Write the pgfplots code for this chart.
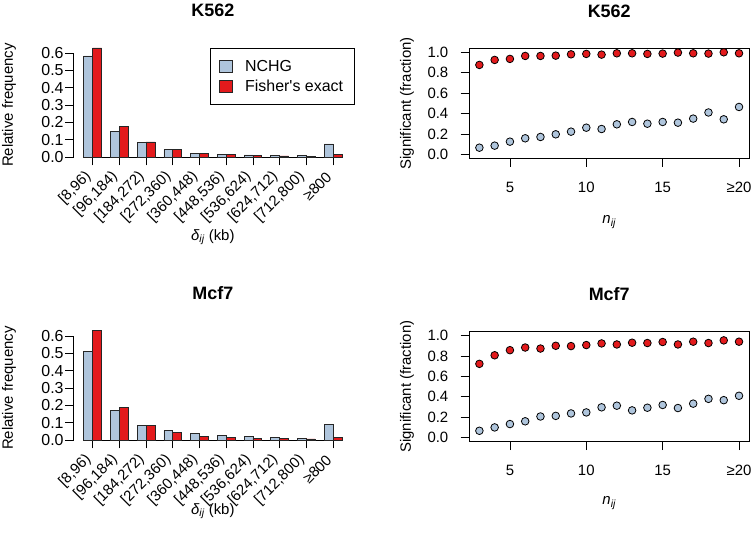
\documentclass[border=0pt]{standalone}
\usepackage{fontspec}
\setmainfont{Liberation Sans}
\usepackage{pgfplots}
\pgfplotsset{compat=1.18}
\definecolor{nchg}{HTML}{AFC5DC}
\definecolor{fish}{HTML}{E31A1C}
\pgfkeys{/pgf/number format/assume math mode=true}
\pgfplotsset{
  barleg/.style={legend image code/.code={\draw[##1] (0bp,-6bp) rectangle (13bp,6bp);}},
  rbase/.style={scale only axis, anchor=south west, tick align=outside, major tick length=8.5bp,
     every tick/.style={black, line width=0.8bp}, axis line style={line width=0.8bp},
     tick label style={font=\fontsize{15}{18}\selectfont},
     label style={font=\fontsize{15}{18}\selectfont},
     title style={font=\fontsize{18}{21}\selectfont\bfseries},
     legend style={font=\fontsize{16}{19}\selectfont},
  },
  barax/.style={rbase, width=258.1bp, height=104bp, xmin=0.6667, xmax=10.3333, ymin=0, ymax=0.6, clip=false,
     axis x line*=bottom, axis y line*=left, axis y line shift=10bp, axis line style={-},
     ytick={0,0.1,0.2,0.3,0.4,0.5,0.6},
     yticklabel style={font=\fontsize{16}{19}\selectfont, /pgf/number format/.cd, fixed, fixed zerofill, precision=1, /tikz/.cd, inner xsep=1.5bp},
     xtick={1,...,10},
     xticklabels={{[8,96)},{[96,184)},{[184,272)},{[272,360)},{[360,448)},{[448,536)},{[536,624)},{[624,712)},{[712,800)},{≥800}},
     xticklabel style={xshift=-4bp, yshift=-9bp, rotate=45, anchor=east, inner sep=0pt},
     ylabel={Relative frequency}, ylabel style={at={(axis description cs:-0.29,0.5)}, anchor=center},
     title style={at={(axis description cs:0.5,1.356)}, anchor=center},
  },
  dotax/.style={rbase, width=280.4bp, height=110.2bp, xmin=2.32, xmax=20.68, ymin=-0.04, ymax=1.04,
     xtick pos=bottom, ytick pos=left,
     xtick={5,10,15,20}, xticklabels={5,10,15,≥20},
     xticklabel style={inner sep=0pt, yshift=-15bp},
     ytick={0,0.2,0.4,0.6,0.8,1.0},
     yticklabel style={/pgf/number format/.cd, fixed, fixed zerofill, precision=1, /tikz/.cd, inner xsep=12bp},
     ylabel={Significant (fraction)}, ylabel style={at={(axis description cs:-0.2211,0.5)}, anchor=center},
     title style={at={(axis description cs:0.5,1.283)}, anchor=center},
  },
  nbar/.style={ybar, bar width=8.9bp, bar shift=-4.45bp, fill=nchg, draw=black!85, line width=0.8bp, barleg},
  fbar/.style={ybar, bar width=8.9bp, bar shift=4.45bp, fill=fish, draw=black!85, line width=0.8bp, barleg},
  ndot/.style={only marks, mark=*, mark size=3.8bp, mark options={fill=nchg, draw=black, line width=0.8bp}},
  fdot/.style={only marks, mark=*, mark size=3.8bp, mark options={fill=fish, draw=black, line width=0.8bp}},
}
\begin{document}
\begin{tikzpicture}
\useasboundingbox (0,0) rectangle (756bp,535bp);
% top-left
\begin{axis}[barax, name=tl, at={(83.8bp,378bp)}, title={K562},
  legend style={at={(axis description cs:0.489,1.048)}, anchor=north west, draw=black, line width=0.8bp,
     inner xsep=9bp, inner ysep=10bp, row sep=2.5bp, column sep=10bp, nodes={inner sep=2bp, anchor=west}},
  legend cell align=left]
\addplot[nbar] coordinates {(1,0.583) (2,0.148) (3,0.085) (4,0.042) (5,0.023) (6,0.017) (7,0.012) (8,0.008) (9,0.008) (10,0.075)};
\addplot[fbar] coordinates {(1,0.629) (2,0.177) (3,0.087) (4,0.042) (5,0.023) (6,0.013) (7,0.008) (8,0.006) (9,0.004) (10,0.015)};
\legend{NCHG, Fisher\textquotesingle s exact}
\end{axis}
% bottom-left
\begin{axis}[barax, name=bl, at={(83.8bp,95bp)}, title={Mcf7}]
\addplot[nbar] coordinates {(1,0.510) (2,0.173) (3,0.085) (4,0.054) (5,0.037) (6,0.027) (7,0.021) (8,0.015) (9,0.010) (10,0.090)};
\addplot[fbar] coordinates {(1,0.632) (2,0.188) (3,0.083) (4,0.042) (5,0.023) (6,0.015) (7,0.010) (8,0.008) (9,0.006) (10,0.015)};
\end{axis}
% top-right
\begin{axis}[dotax, name=tr, at={(469bp,376.6bp)}, title={K562}]
\addplot[fdot] coordinates {(3,0.876) (4,0.925) (5,0.935) (6,0.964) (7,0.964) (8,0.967) (9,0.980) (10,0.984) (11,0.977) (12,0.990) (13,0.990) (14,0.984) (15,0.987) (16,0.997) (17,0.990) (18,0.987) (19,1.000) (20,0.990)};
\addplot[ndot] coordinates {(3,0.065) (4,0.085) (5,0.124) (6,0.157) (7,0.170) (8,0.196) (9,0.222) (10,0.261) (11,0.248) (12,0.294) (13,0.317) (14,0.300) (15,0.317) (16,0.310) (17,0.350) (18,0.410) (19,0.343) (20,0.464)};
\end{axis}
% bottom-right
\begin{axis}[dotax, name=br, at={(469bp,93.3bp)}, title={Mcf7}]
\addplot[fdot] coordinates {(3,0.723) (4,0.807) (5,0.857) (6,0.883) (7,0.873) (8,0.900) (9,0.897) (10,0.907) (11,0.923) (12,0.913) (13,0.930) (14,0.927) (15,0.937) (16,0.913) (17,0.940) (18,0.927) (19,0.953) (20,0.940)};
\addplot[ndot] coordinates {(3,0.067) (4,0.100) (5,0.133) (6,0.160) (7,0.207) (8,0.213) (9,0.237) (10,0.247) (11,0.297) (12,0.313) (13,0.267) (14,0.293) (15,0.320) (16,0.290) (17,0.333) (18,0.380) (19,0.367) (20,0.410)};
\end{axis}
% x-axis labels
\node[font=\fontsize{15}{18}\selectfont, anchor=center, yshift=-80bp] at (tl.south) {{\itshape δ\textsubscript{ij}} (kb)};
\node[font=\fontsize{15}{18}\selectfont, anchor=center, yshift=-71bp] at (bl.south) {{\itshape δ\textsubscript{ij}} (kb)};
\node[font=\fontsize{15}{18}\selectfont, anchor=center, yshift=-63.6bp] at (tr.south) {{\itshape n\textsubscript{ij}}};
\node[font=\fontsize{15}{18}\selectfont, anchor=center, yshift=-61.3bp] at (br.south) {{\itshape n\textsubscript{ij}}};
\end{tikzpicture}
\end{document}
